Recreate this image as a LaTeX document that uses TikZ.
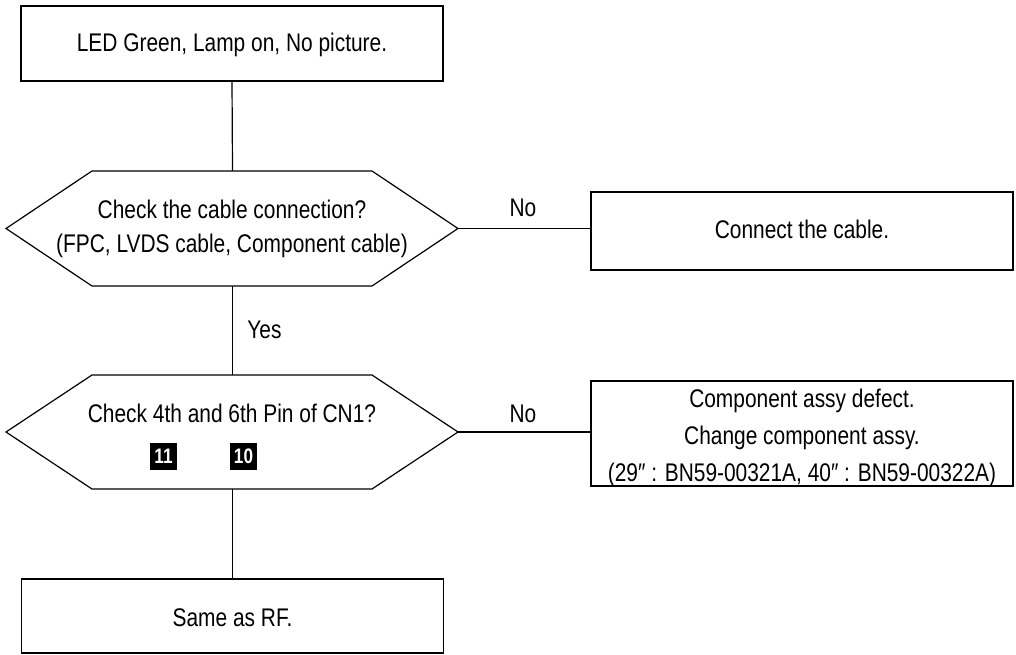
\documentclass[tikz,border=0pt]{standalone}
\usepackage{fontspec}
\setmainfont{Liberation Sans}[FakeStretch=0.82]
\newcommand\boxtext[2]{\raisebox{#1}[0pt][0pt]{\begin{tabular}[t]{@{}c@{}}#2\end{tabular}}}
\begin{document}
\begin{tikzpicture}[x=1pt,y=-1pt,line width=1.2pt,
  every node/.style={inner sep=0pt,outer sep=0pt,font=\fontsize{25.5}{34}\selectfont},
  stepbox/.style={draw,rectangle,minimum width=422,minimum height=#1},
  rbox/.style={font=\fontsize{25.5}{37}\selectfont},
  badge/.style={fill=black,text=white,minimum size=27,font=\fontsize{21}{21}\selectfont\bfseries},
  lbl/.style={anchor=base}]
\useasboundingbox (0,0) rectangle (1016,655);
% boxes
\node[stepbox=75] (start) at (232,43.5) {\boxtext{-8.5pt}{LED Green, Lamp on, No picture.}};
\node[stepbox=78] (c1) at (802,231) {\boxtext{-7pt}{Connect the cable.}};
\node[stepbox=105,rbox] (c2) at (802,433.5) {\boxtext{26.5pt}{Component assy defect.\\Change component assy.\\(29″ : BN59-00321A, 40″ : BN59-00322A)}};
\node[stepbox=74] (end) at (232.5,616) {\boxtext{-10pt}{Same as RF.}};
% decision 1
\node (q1) at (232,228.5) {\boxtext{10pt}{Check the cable connection?\\(FPC, LVDS cable, Component cable)}};
\draw (q1.center) ++(-226,0) -- ++(86,-57.5) -- ++(280,0) -- ++(86,57.5) -- ++(-86,57.5) -- ++(-280,0) -- cycle;
\coordinate (q1n) at (232.5,171);
\coordinate (q1s) at (232.5,286);
\coordinate (q1e) at (458,228.5);
% decision 2
\node (q2) at (232,432) {\boxtext{10pt}{Check 4th and 6th Pin of CN1?}};
\draw (q2.center) ++(-226,0) -- ++(86,-57) -- ++(280,0) -- ++(86,57) -- ++(-86,57) -- ++(-280,0) -- cycle;
\coordinate (q2n) at (232.5,375);
\coordinate (q2s) at (232.5,489);
\coordinate (q2e) at (458,432);
\node[badge] (b11) at (163.5,456) {11};
\node[badge] (b10) at (243.5,456) {10};
% connectors
\draw (start.south) -- (q1n);
\draw (q1s) -- (q2n);
\draw (q2s) -- (end.north);
\draw (q1e) -- (q1e -| c1.west);
\draw (q2e) -- (q2e -| c2.west);
% labels
\node[lbl] (no1) at (523,216) {No};
\node[lbl] (no2) at (523,422) {No};
\node[lbl] (yes) at (264.5,338) {Yes};
\end{tikzpicture}
\end{document}
